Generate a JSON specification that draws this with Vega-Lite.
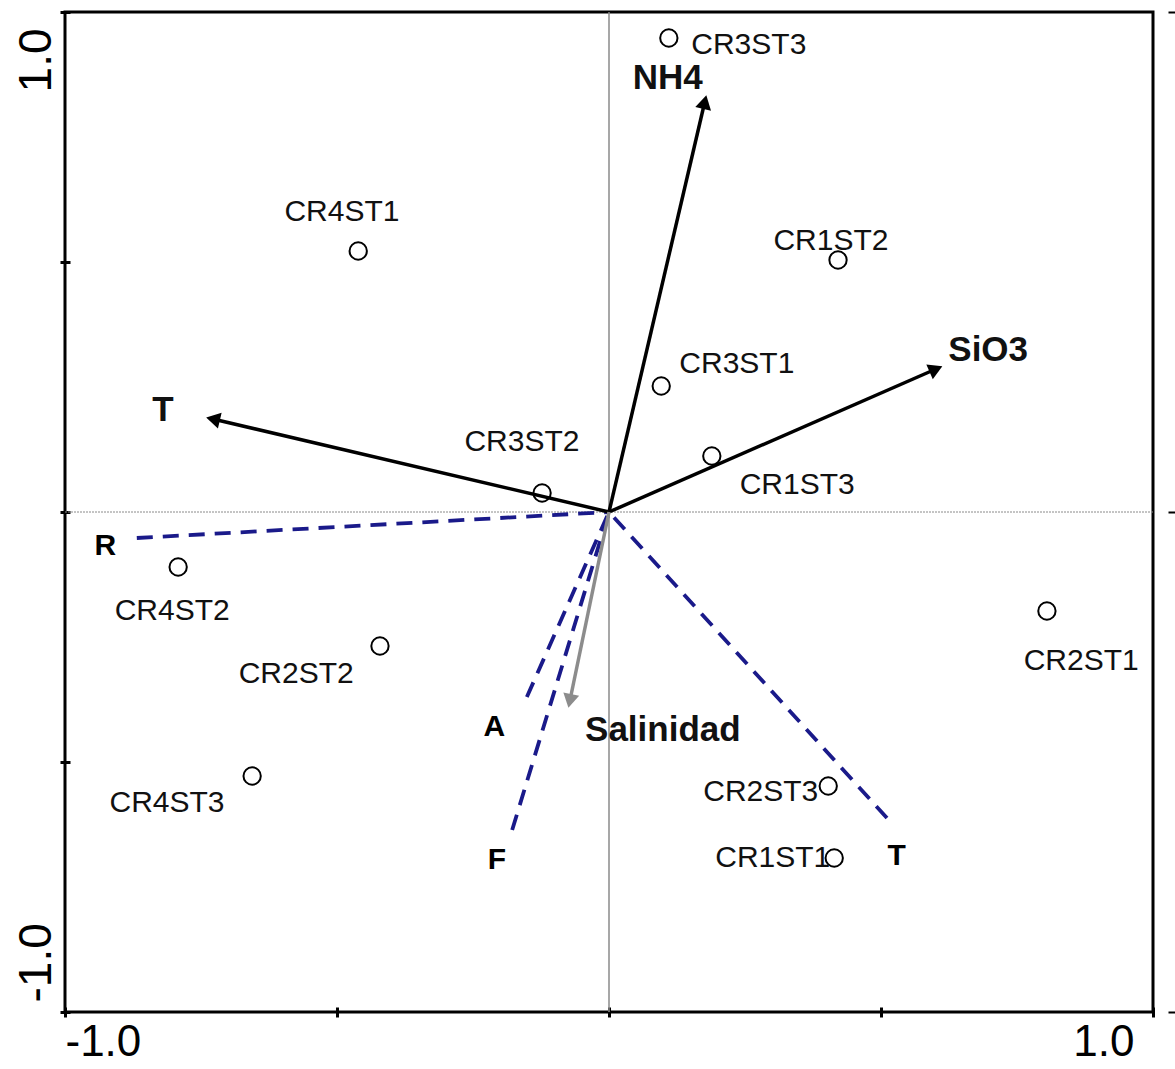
{
  "$schema": "https://vega.github.io/schema/vega-lite/v6.json",
  "width": 1088,
  "height": 1000,
  "autosize": "none",
  "padding": {"left": 65, "top": 12, "right": 22, "bottom": 57},
  "config": {"view": {"stroke": "black", "strokeWidth": 3}, "font": "Liberation Sans", "text": {"font": "Liberation Sans"}},
  "datasets": {
    "sites": [
      {"site": "CR3ST3", "x": 0.110, "y": 0.948, "lx": 0.257, "ly": 0.934},
      {"site": "CR4ST1", "x": -0.461, "y": 0.522, "lx": -0.491, "ly": 0.600},
      {"site": "CR1ST2", "x": 0.421, "y": 0.504, "lx": 0.408, "ly": 0.542},
      {"site": "CR3ST1", "x": 0.096, "y": 0.252, "lx": 0.235, "ly": 0.296},
      {"site": "CR1ST3", "x": 0.189, "y": 0.112, "lx": 0.346, "ly": 0.054},
      {"site": "CR3ST2", "x": -0.123, "y": 0.038, "lx": -0.160, "ly": 0.140},
      {"site": "CR4ST2", "x": -0.792, "y": -0.110, "lx": -0.803, "ly": -0.198},
      {"site": "CR2ST2", "x": -0.421, "y": -0.268, "lx": -0.575, "ly": -0.324},
      {"site": "CR2ST1", "x": 0.805, "y": -0.198, "lx": 0.868, "ly": -0.298},
      {"site": "CR4ST3", "x": -0.656, "y": -0.528, "lx": -0.8125, "ly": -0.582},
      {"site": "CR2ST3", "x": 0.403, "y": -0.548, "lx": 0.279, "ly": -0.560},
      {"site": "CR1ST1", "x": 0.414, "y": -0.692, "lx": 0.301, "ly": -0.692}
    ],
    "env": [
      {"name": "NH4", "kind": "env", "x": 0.176, "y": 0.820, "lx": 0.108, "ly": 0.868},
      {"name": "SiO3", "kind": "env", "x": 0.601, "y": 0.286, "lx": 0.697, "ly": 0.324},
      {"name": "T", "kind": "env", "x": -0.728, "y": 0.186, "lx": -0.820, "ly": 0.204},
      {"name": "Salinidad", "kind": "sal", "x": -0.072, "y": -0.378, "lx": 0.099, "ly": -0.436}
    ],
    "species": [
      {"name": "R", "x": -0.868, "y": -0.052, "lx": -0.926, "ly": -0.068},
      {"name": "A", "x": -0.151, "y": -0.370, "lx": -0.211, "ly": -0.430},
      {"name": "F", "x": -0.178, "y": -0.636, "lx": -0.206, "ly": -0.696},
      {"name": "T", "x": 0.511, "y": -0.612, "lx": 0.529, "ly": -0.688}
    ],
    "zero": [{"v": 0}]
  },
  "layer": [
    {
      "data": {"name": "zero"},
      "mark": {"type": "rule", "color": "#8a8a8a", "strokeWidth": 1, "strokeDash": [2, 1]},
      "encoding": {
        "y": {"field": "v", "type": "quantitative", "scale": {"domain": [-1, 1], "nice": false}, "axis": null}
      }
    },
    {
      "data": {"name": "zero"},
      "mark": {"type": "rule", "color": "#8a8a8a", "strokeWidth": 1.5},
      "encoding": {
        "x": {"field": "v", "type": "quantitative", "scale": {"domain": [-1, 1], "nice": false}, "axis": null}
      }
    },
    {
      "data": {"name": "species"},
      "mark": {"type": "rule", "color": "#1a1a8a", "strokeWidth": 3.8, "strokeDash": [16, 10]},
      "encoding": {
        "x": {"field": "x", "type": "quantitative", "axis": null},
        "y": {"field": "y", "type": "quantitative", "axis": null},
        "x2": {"datum": 0},
        "y2": {"datum": 0}
      }
    },
    {
      "data": {"name": "env"},
      "mark": {"type": "rule", "strokeWidth": 3.5},
      "encoding": {
        "x": {"field": "x", "type": "quantitative", "axis": null},
        "y": {"field": "y", "type": "quantitative", "axis": null},
        "x2": {"datum": 0},
        "y2": {"datum": 0},
        "color": {"field": "kind", "type": "nominal", "scale": {"domain": ["env", "sal"], "range": ["#000000", "#8c8c8c"]}, "legend": null}
      }
    },
    {
      "data": {"name": "env"},
      "transform": [{"calculate": "atan2(datum.x * 544, datum.y * 500) * 180 / PI + 360", "as": "ang"}],
      "mark": {"type": "point", "shape": "triangle-up", "filled": true, "opacity": 1, "size": 260},
      "encoding": {
        "x": {"field": "x", "type": "quantitative", "axis": null},
        "y": {"field": "y", "type": "quantitative", "axis": null},
        "angle": {"field": "ang", "type": "quantitative", "scale": null},
        "color": {"field": "kind", "type": "nominal", "scale": {"domain": ["env", "sal"], "range": ["#000000", "#8c8c8c"]}, "legend": null}
      }
    },
    {
      "data": {"name": "sites"},
      "mark": {"type": "point", "shape": "circle", "filled": false, "color": "black", "strokeWidth": 2, "size": 300, "opacity": 1},
      "encoding": {
        "x": {"field": "x", "type": "quantitative", "scale": {"domain": [-1, 1], "nice": false},
          "axis": {"orient": "bottom", "values": [-1, -0.5, 0, 0.5, 1], "domain": false, "grid": false, "offset": -5, "tickSize": 10, "tickWidth": 3, "tickColor": "black",
            "labelExpr": "datum.value == -1 ? '-1.0' : datum.value == 1 ? '1.0' : ''",
            "labelFontSize": 44, "labelColor": "black", "labelPadding": 3, "labelBaseline": "top", "labelFlush": false, "labelOverlap": false, "labelBound": false,
            "labelAlign": {"condition": {"test": "datum.value < 0", "value": "left"}, "value": "right"},
            "labelOffset": {"condition": {"test": "datum.value < 0", "value": 0}, "value": -19},
            "title": null}},
        "y": {"field": "y", "type": "quantitative", "scale": {"domain": [-1, 1], "nice": false},
          "axis": {"orient": "left", "values": [-1, -0.5, 0, 0.5, 1], "domain": false, "grid": false, "offset": -5, "tickSize": 10, "tickWidth": 3, "tickColor": "black",
            "labelExpr": "datum.value == -1 ? '-1.0' : datum.value == 1 ? '1.0' : ''",
            "labelAngle": 270, "labelFontSize": 46, "labelColor": "black", "labelPadding": 10, "labelBaseline": "alphabetic", "labelFlush": false, "labelOverlap": false, "labelBound": false,
            "labelAlign": {"condition": {"test": "datum.value > 0", "value": "right"}, "value": "left"},
            "labelOffset": {"condition": {"test": "datum.value > 0", "value": 16}, "value": -10},
            "title": null}}
      }
    },
    {
      "data": {"name": "sites"},
      "mark": {"type": "text", "fontSize": 30, "color": "#111111", "align": "center", "baseline": "middle"},
      "encoding": {
        "x": {"field": "lx", "type": "quantitative", "axis": null},
        "y": {"field": "ly", "type": "quantitative",
          "axis": {"orient": "right", "values": [-1, 0, 1], "domain": false, "grid": false, "labels": false, "ticks": true, "tickSize": 8, "tickWidth": 2, "tickColor": "black", "offset": 15, "title": null}},
        "text": {"field": "site"}
      }
    },
    {
      "data": {"name": "env"},
      "mark": {"type": "text", "fontSize": 35, "fontWeight": "bold", "align": "center", "baseline": "middle", "color": "#111111"},
      "encoding": {
        "x": {"field": "lx", "type": "quantitative", "axis": null},
        "y": {"field": "ly", "type": "quantitative", "axis": null},
        "text": {"field": "name"}
      }
    },
    {
      "data": {"name": "species"},
      "mark": {"type": "text", "fontSize": 30, "fontWeight": "bold", "color": "black", "align": "center", "baseline": "middle"},
      "encoding": {
        "x": {"field": "lx", "type": "quantitative", "axis": null},
        "y": {"field": "ly", "type": "quantitative", "axis": null},
        "text": {"field": "name"}
      }
    }
  ],
  "resolve": {"axis": {"x": "independent", "y": "independent"}}
}
